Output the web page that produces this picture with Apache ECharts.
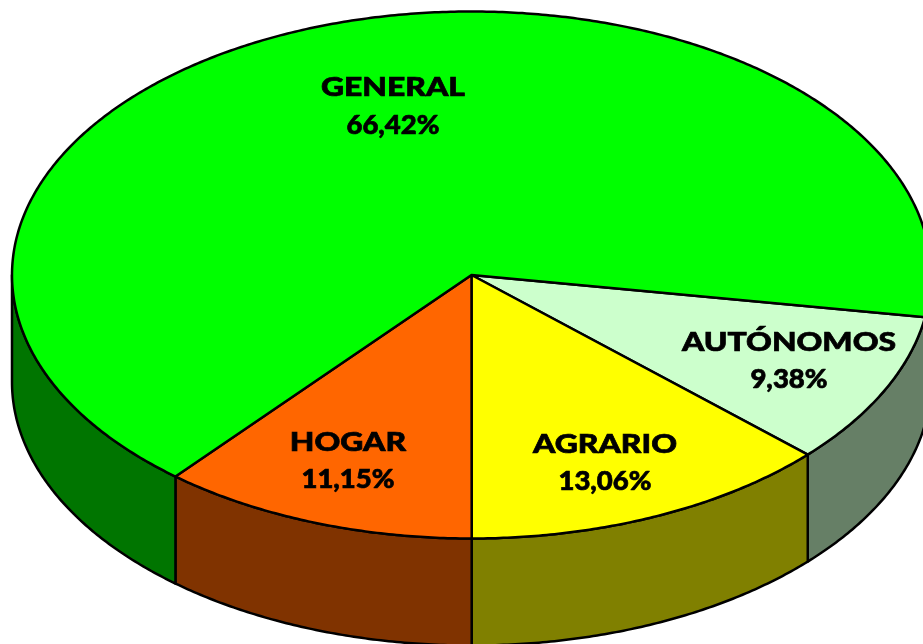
<!DOCTYPE html>
<html>
<head>
<meta charset="utf-8">
<style>
  html, body { margin: 0; padding: 0; background: #fff; overflow: hidden; }
  #chart { width: 923px; height: 644px; }
</style>
<script src="https://cdn.jsdelivr.net/npm/echarts@6/dist/echarts.min.js"></script>
</head>
<body>
<div id="chart"></div>
<script>
// clockwise from the right edge of the pie
const names = ["AUTÓNOMOS", "AGRARIO", "HOGAR", "GENERAL"];
const percents = [9.38, 13.06, 11.15, 66.42];
const percentLabels = ["9,38%", "13,06%", "11,15%", "66,42%"];
const topColors = ["#ccffcc", "#ffff00", "#ff6600", "#00ff00"];
const sideColors = ["#667f66", "#808000", "#803300", "#007500"];
const nameCenters = [[789, 342], [605, 444], [348, 442], [393, 87]];
const percentCenters = [[789, 379], [605, 481], [348, 479], [393, 125]];

const cx = 471.5, cy = 275, rx = 459.5, ry = 263.5, depth = 107;
const startDeg = 9.2;
const total = percents.reduce((a, b) => a + b, 0);

function rimPoint(deg, drop) {
    const t = (deg * Math.PI) / 180;
    return [cx + rx * Math.cos(t), cy + ry * Math.sin(t) + drop];
}

function arcPoints(from, to, drop) {
    const pts = [];
    const steps = Math.max(2, Math.ceil((to - from) * 2));
    for (let i = 0; i <= steps; i++) {
        pts.push(rimPoint(from + ((to - from) * i) / steps, drop));
    }
    return pts;
}

// side wall only shows on the front half of the ellipse (0-180 deg, repeated every 360)
function wallPieces(from, to) {
    const pieces = [];
    [0, 360].forEach((offset) => {
        const a = Math.max(from, offset);
        const b = Math.min(to, offset + 180);
        if (b > a) pieces.push([a, b]);
    });
    return pieces;
}

function labelText(x, y, text, scaleX) {
    return {
        type: "text",
        x,
        y,
        scaleX,
        z2: 10,
        style: {
            text,
            fill: "#000",
            stroke: "#000",
            lineWidth: 0.7,
            font: "900 27px Lato",
            align: "center",
            verticalAlign: "middle",
        },
    };
}

function renderSlice(params, api) {
    const idx = api.value(0);
    let from = startDeg;
    for (let i = 0; i < idx; i++) from += (percents[i] / total) * 360;
    const to = from + (api.value(1) / total) * 360;
    const stroke = { stroke: "#000", lineWidth: 2.5, lineJoin: "round" };
    const children = [];

    wallPieces(from, to).forEach(([a, b]) => {
        const points = arcPoints(a, b, 0).concat(arcPoints(a, b, depth).reverse());
        children.push({
            type: "polygon",
            shape: { points },
            style: { fill: sideColors[idx], ...stroke },
        });
    });

    children.push({
        type: "polygon",
        shape: { points: [[cx, cy]].concat(arcPoints(from, to, 0)) },
        style: { fill: topColors[idx], ...stroke },
    });

    children.push(labelText(nameCenters[idx][0], nameCenters[idx][1], names[idx], 1.18));
    children.push(labelText(percentCenters[idx][0], percentCenters[idx][1], percentLabels[idx], 1.02));

    return { type: "group", children };
}

const chart = echarts.init(document.getElementById("chart"));
chart.setOption({
    animation: false,
    backgroundColor: "#fff",
    series: [
        {
            type: "custom",
            coordinateSystem: "none",
            renderItem: renderSlice,
            data: percents.map((p, i) => [i, p]),
            silent: true,
        },
    ],
});
</script>
</body>
</html>
